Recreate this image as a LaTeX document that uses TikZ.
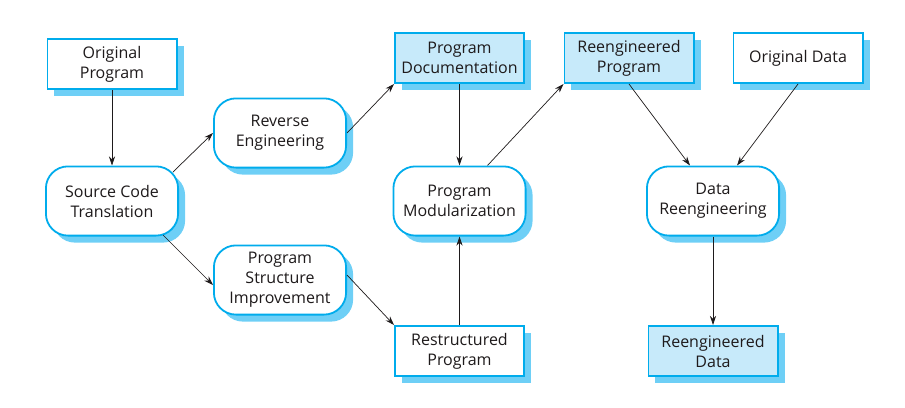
\documentclass[tikz,border=0pt]{standalone}
\usepackage{fontspec}
\setmainfont{Open Sans}
\usetikzlibrary{arrows.meta,shadows}
\definecolor{boxline}{RGB}{0,172,236}
\definecolor{boxshade}{RGB}{110,207,246}
\definecolor{boxfill}{RGB}{199,234,250}
\definecolor{ink}{RGB}{30,26,27}
\begin{document}
\begin{tikzpicture}[x=1pt, y=-1pt,
  every node/.style={font=\fontsize{16}{20}\selectfont, text=ink, align=center},
  basebox/.style={draw=boxline, line width=1.8pt, fill=white, inner sep=0pt,
    drop shadow={shadow xshift=7pt, shadow yshift=-7pt, fill=boxshade, opacity=1}},
  docbox/.style={basebox, minimum width=129.2pt, minimum height=50.2pt},
  outbox/.style={docbox, fill=boxfill},
  procbox/.style={basebox, rounded corners=22pt, minimum width=132.2pt, minimum height=69.2pt},
  flow/.style={draw=ink, line width=0.7pt, -{Stealth[length=9pt,width=6pt]}}]
\def \xsrc   {112}
\def \xrev   {280}
\def \xmod   {459.5}
\def \xrep   {629}
\def \xdata  {713}
\def \xodata {798}

\def \ytop  {58}
\def \yrev  {133}
\def \ymid  {201}
\def \ypsi  {280}
\def \ybot  {351}

\useasboundingbox (0,0) rectangle (905,407);

% documents
\node [docbox] (origprog) at (\xsrc, 64) {Original\\Program};
\node [outbox] (progdoc) at (\xmod, \ytop) {Program\\Documentation};
\node [outbox] (reprog) at (\xrep, \ytop) {Reengineered\\Program};
\node [docbox] (origdata) at (\xodata, \ytop) {Original Data};
\node [docbox] (restprog) at (\xmod, \ybot) {Restructured\\Program};
\node [outbox] (redata) at (\xdata, \ybot) {Reengineered\\Data};

% processes
\node [procbox] (srctrans) at (\xsrc, \ymid) {Source Code\\Translation};
\node [procbox] (reveng) at (\xrev, \yrev) {Reverse\\Engineering};
\node [procbox] (psimp) at (\xrev, \ypsi) {Program\\Structure\\Improvement};
\node [procbox] (progmod) at (\xmod, \ymid) {Program\\Modularization};
\node [procbox] (datareng) at (\xdata, \ymid) {Data\\Reengineering};

% flows
\draw [flow] (origprog.south) -- (srctrans.north);
\draw [flow] ([shift={(-6,6.5)}]srctrans.north east) -- (reveng.west);
\draw [flow] ([shift={(-16,-1.5)}]srctrans.south east) -- ([shift={(0,5)}]psimp.west);
\draw [flow] (reveng.east) -- (progdoc.south west);
\draw [flow] ([shift={(0,-5)}]psimp.east) -- (restprog.north west);
\draw [flow] (progdoc.south) -- (progmod.north);
\draw [flow] (restprog.north) -- (progmod.south);
\draw [flow] ([xshift=28pt]progmod.north) -- (reprog.south west);
\draw [flow] (reprog.south) -- ([xshift=-23pt]datareng.north);
\draw [flow] (origdata.south) -- ([xshift=24pt]datareng.north);
\draw [flow] (datareng.south) -- (redata.north);
\end{tikzpicture}
\end{document}
